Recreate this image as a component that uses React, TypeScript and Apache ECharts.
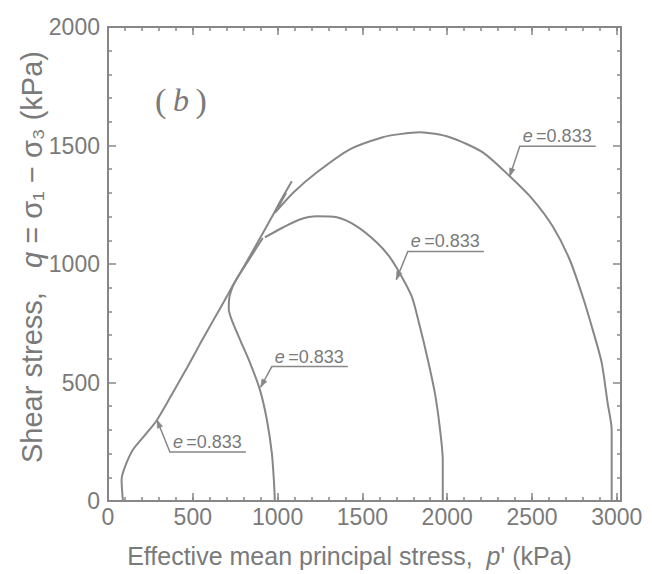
import React, { useEffect, useRef } from "react";
import * as echarts from "echarts";

// ---- data (p' in kPa, q in kPa) ----
const xTickValues = [0, 500, 1000, 1500, 2000, 2500, 3000];
const yTickValues = [0, 500, 1000, 1500, 2000];

const curveA: [number, number][] = [
  [88, 0], [80, 89], [100, 144], [147, 216], [230, 288], [289, 342], [377, 450],
  [466, 562], [542, 662], [619, 760], [684, 842], [737, 910], [837, 1034],
  [907, 1122], [966, 1198], [1014, 1262], [1084, 1349],
];
const curveB: [number, number][] = [
  [984, 0], [978, 89], [966, 203], [937, 342], [896, 469], [837, 584], [778, 681],
  [729, 765], [712, 810], [716, 860], [735, 905], [770, 950], [820, 1005], [870, 1062], [913, 1110],
];
const curveC: [number, number][] = [
  [1974, 0], [1974, 173], [1956, 313], [1927, 457], [1886, 596], [1839, 736],
  [1791, 863], [1721, 960], [1655, 1035], [1585, 1091], [1467, 1159], [1349, 1197],
  [1232, 1201], [1131, 1188], [1031, 1154], [925, 1112],
];
const curveD: [number, number][] = [
  [2970, 0], [2970, 173], [2970, 300], [2946, 414], [2911, 584], [2858, 723],
  [2799, 863], [2722, 1019], [2622, 1159], [2504, 1273], [2369, 1370], [2210, 1471],
  [2015, 1535], [1839, 1556], [1721, 1548], [1620, 1535], [1426, 1484], [1232, 1387],
  [1092, 1301], [984, 1216], [1050, 1300],
];

const labelText = "=0.833";
// arrow tip on the curve, and the left end of the underline (data coords)
const annotationTips: [number, number][] = [[2369, 1370], [1700, 934], [900, 480], [289, 342]];
const annotationElbows: [number, number][] = [[2428, 1497], [1768, 1053], [966, 567], [365, 207]];
const panelLabelAt: [number, number] = [430, 1690];

// ---- styles ----
const FONT = "'Liberation Sans', Arial, sans-serif";
const LINE = "#878787";
const TEXT = "#7a7a7a";

export default function App() {
  const ref = useRef<HTMLDivElement>(null);
  useEffect(() => {
    if (!ref.current) return;
    const chart = echarts.init(ref.current, undefined, { renderer: "svg" });

    const mkSeries = (name: string, data: [number, number][]) => ({
      name,
      type: "line",
      data,
      xAxisIndex: 0,
      yAxisIndex: 0,
      showSymbol: false,
      smooth: 0.25,
      lineStyle: { color: LINE, width: 2 },
      z: 3,
    });

    const lineStyle = { color: LINE, width: 2 };
    const tickStyle = { color: LINE, width: 1.5 };
    const xBase = { type: "value", min: 0, max: 3025, splitLine: { show: false } };

    const option: any = {
      animation: false,
      backgroundColor: "#ffffff",
      grid: { left: 108, right: 31, top: 27, bottom: 73 },
      xAxis: [
        {
          ...xBase,
          position: "bottom",
          interval: 500,
          axisLine: { show: true, onZero: false, lineStyle },
          axisTick: { show: true, inside: true, length: 8, lineStyle: tickStyle },
          axisLabel: {
            color: TEXT,
            fontSize: 23,
            fontFamily: FONT,
            margin: 4,
            formatter: (v: number) => (xTickValues.includes(v) ? String(v) : ""),
          },
          name: "{t|Effective mean principal stress,  }{i|p}{t|' (kPa)}",
          nameLocation: "middle",
          nameGap: 42,
          nameTextStyle: {
            padding: [0, 30, 0, 0],
            rich: {
              t: { fontSize: 25, fontFamily: FONT, color: TEXT },
              i: { fontSize: 25, fontFamily: FONT, color: TEXT, fontStyle: "italic" },
            },
          },
        },
        {
          ...xBase,
          position: "bottom",
          interval: 100,
          axisLine: { show: false, onZero: false },
          axisTick: { show: true, inside: true, length: 4, lineStyle: tickStyle },
          axisLabel: { show: false },
        },
        {
          ...xBase,
          position: "top",
          interval: 500,
          axisLine: { show: true, onZero: false, lineStyle },
          axisTick: { show: true, inside: true, length: 8, lineStyle: tickStyle },
          axisLabel: { show: false },
        },
        {
          ...xBase,
          position: "top",
          interval: 100,
          axisLine: { show: false, onZero: false },
          axisTick: { show: true, inside: true, length: 4, lineStyle: tickStyle },
          axisLabel: { show: false },
        },
      ],
      yAxis: [
        {
          type: "value",
          position: "left",
          min: 0,
          max: 2000,
          interval: 500,
          splitLine: { show: false },
          axisLine: { show: true, onZero: false, lineStyle },
          axisTick: { show: true, inside: true, length: 8, lineStyle: tickStyle },
          minorTick: { show: true, splitNumber: 5, length: 4, lineStyle: tickStyle },
          axisLabel: {
            color: TEXT,
            fontSize: 23,
            fontFamily: FONT,
            margin: 8,
            formatter: (v: number) => (yTickValues.includes(v) ? String(v) : ""),
          },
          name: "{t|Shear stress,   }{i|q}{t| = σ₁ − σ₃ (kPa)}",
          nameLocation: "middle",
          nameRotate: 90,
          nameGap: 62,
          nameMoveOverlap: false,
          nameTextStyle: {
            padding: [0, 0, 0, 14],
            rich: {
              t: { fontSize: 29, fontFamily: FONT, color: TEXT },
              i: { fontSize: 29, fontFamily: FONT, color: TEXT, fontStyle: "italic" },
            },
          },
        },
        {
          type: "value",
          position: "right",
          min: 0,
          max: 2000,
          interval: 500,
          splitLine: { show: false },
          axisLine: { show: true, onZero: false, lineStyle },
          axisTick: { show: true, inside: true, length: 8, lineStyle: tickStyle },
          minorTick: { show: true, splitNumber: 5, length: 4, lineStyle: tickStyle },
          axisLabel: { show: false },
        },
      ],
      series: [
        mkSeries("A", curveA),
        mkSeries("B", curveB),
        mkSeries("C", curveC),
        mkSeries("D", curveD),
      ],
    };
    chart.setOption(option);

    const toPx = (p: [number, number]) =>
      chart.convertToPixel({ xAxisIndex: 0, yAxisIndex: 0 }, p) as number[];

    const underlineLen = 76;
    const graphics: any[] = [];
    annotationTips.forEach((tipD, i) => {
      const tip = toPx(tipD);
      const elbow = toPx(annotationElbows[i]);
      const end = [elbow[0] + underlineLen, elbow[1]];
      graphics.push({
        type: "polyline",
        shape: { points: [tip, elbow, end] },
        style: { stroke: LINE, lineWidth: 1.5, fill: "none" },
        z: 10,
      });
      const dx = tip[0] - elbow[0];
      const dy = tip[1] - elbow[1];
      const len = Math.sqrt(dx * dx + dy * dy);
      const ux = dx / len, uy = dy / len;
      const nx = -uy, ny = ux;
      const al = 8, aw = 2.8;
      graphics.push({
        type: "polygon",
        shape: {
          points: [
            tip,
            [tip[0] - ux * al + nx * aw, tip[1] - uy * al + ny * aw],
            [tip[0] - ux * al - nx * aw, tip[1] - uy * al - ny * aw],
          ],
        },
        style: { fill: LINE, stroke: LINE, lineWidth: 0.5 },
        z: 10,
      });
      graphics.push({
        type: "text",
        x: elbow[0] + 3,
        y: elbow[1] - 1,
        style: {
          text: "{i|e} {t|" + labelText + "}",
          verticalAlign: "bottom",
          align: "left",
          rich: {
            i: { fontSize: 18, fontFamily: FONT, fontStyle: "italic", fill: TEXT },
            t: { fontSize: 18, fontFamily: FONT, fill: TEXT },
          },
        },
        z: 10,
      });
    });

    const pl = toPx(panelLabelAt);
    graphics.push({
      type: "text",
      x: pl[0],
      y: pl[1],
      style: {
        text: "{p|(}  {b|b}  {p|)}",
        align: "center",
        verticalAlign: "middle",
        rich: {
          p: { fontSize: 34, fontFamily: "'Liberation Serif', serif", fill: TEXT },
          b: { fontSize: 32, fontFamily: "'Liberation Serif', serif", fontStyle: "italic", fill: TEXT },
        },
      },
      z: 10,
    });

    chart.setOption({ graphic: graphics });

    return () => chart.dispose();
  }, []);

  return (
    <div
      ref={ref}
      style={{ position: "fixed", left: 0, top: 0, width: 652, height: 574, background: "#fff" }}
    />
  );
}
